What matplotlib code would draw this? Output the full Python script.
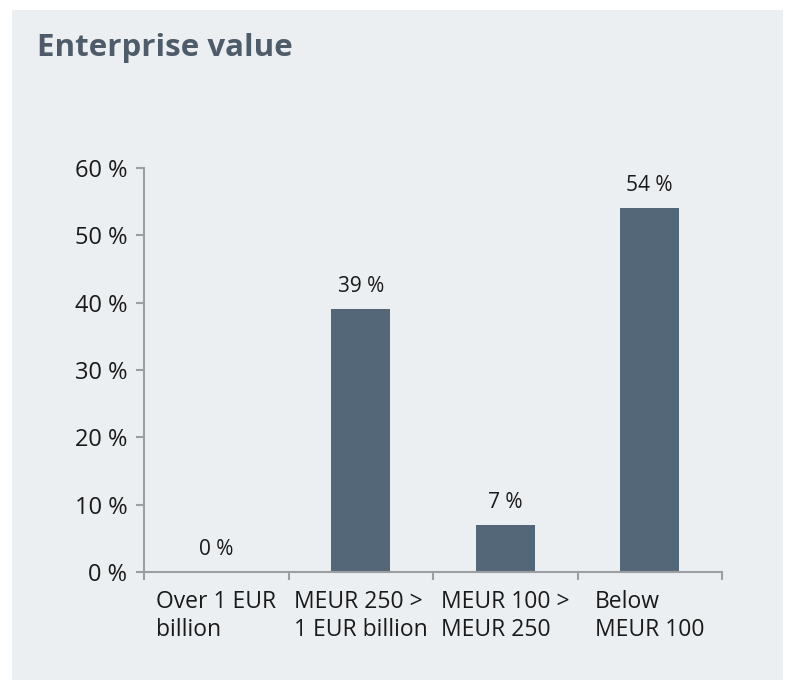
import matplotlib.pyplot as plt
from matplotlib.patches import Rectangle

categories = ["Over 1 EUR\nbillion", "MEUR 250 >\n1 EUR billion", "MEUR 100 >\nMEUR 250", "Below\nMEUR 100"]
values = [0, 39, 7, 54]
y_ticks = [0, 10, 20, 30, 40, 50, 60]

bar_color = "#546778"
panel_color = "#eceff1"
axis_color = "#9c9fa2"
text_color = "#1a1a1a"

plt.rcParams["font.family"] = ["Open Sans", "DejaVu Sans"]

fig = plt.figure(figsize=(7.95, 6.9), dpi=100)
fig.patch.set_facecolor("white")
# light panel behind the chart
fig.add_artist(Rectangle((12 / 795, 1 - 680 / 690), 771 / 795, 670 / 690,
                         transform=fig.transFigure, facecolor=panel_color,
                         edgecolor="none", zorder=-10))

fig.text(37 / 795, 1 - 48 / 690, "Enterprise value", fontsize=22.5, fontweight="bold",
         color="#4e5b68", va="center", ha="left")

ax = fig.add_axes([144 / 795, 1 - 572 / 690, 578 / 795, 404 / 690])
ax.set_facecolor("none")
ax.set_zorder(5)

x = range(len(categories))
ax.bar(x, values, width=0.41, color=bar_color, zorder=2)
for i, v in enumerate(values):
    ax.text(i, v + 1.8, f"{v} %", ha="center", va="bottom", fontsize=15, color=text_color)

ax.set_xlim(-0.5, len(categories) - 0.5)
ax.set_ylim(0, 60)
ax.set_yticks(y_ticks)
ax.set_yticklabels([f"{t} %" for t in y_ticks], fontsize=17, color=text_color)

ax.set_xticks([i - 0.5 for i in range(len(categories) + 1)])
ax.set_xticklabels([])
for i, c in enumerate(categories):
    ax.text(i, -2.6, c, ha="center", va="top", multialignment="left",
            fontsize=16.5, color=text_color, linespacing=1.25)

for s in ["top", "right"]:
    ax.spines[s].set_visible(False)
for s in ["left", "bottom"]:
    ax.spines[s].set_color(axis_color)
    ax.spines[s].set_linewidth(1.5)
ax.tick_params(axis="both", colors=axis_color, width=1.5, length=6, labelcolor=text_color)
ax.tick_params(axis="y", pad=6)

fig.savefig("out.png", dpi=100)
